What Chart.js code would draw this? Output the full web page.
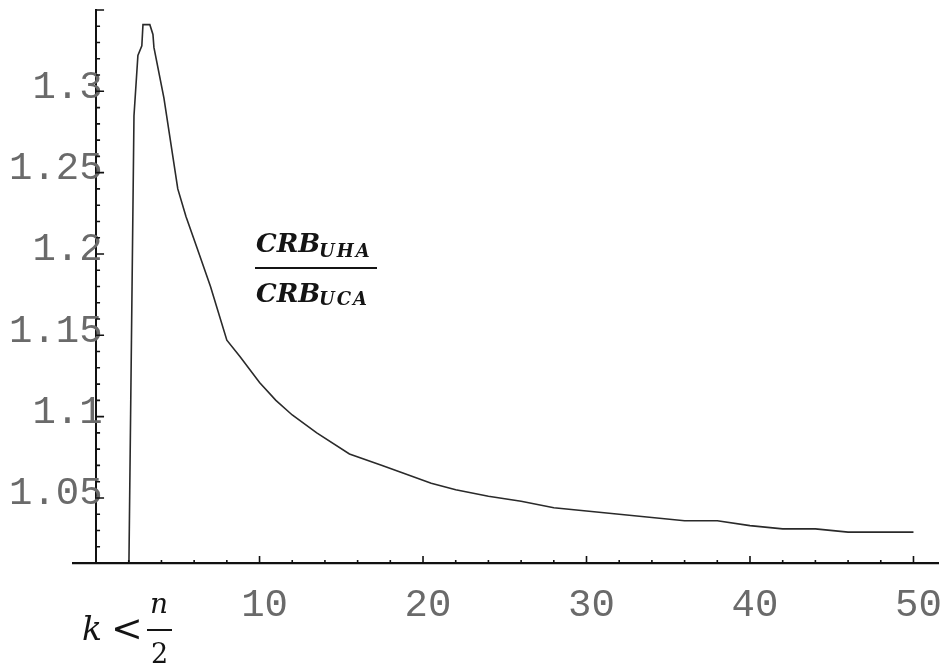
<!DOCTYPE html>
<html>
<head>
<meta charset="utf-8">
<script src="https://cdn.jsdelivr.net/npm/chart.js@4.4.1/dist/chart.umd.min.js"></script>
<style>
  html, body { margin: 0; padding: 0; background: #ffffff; }
  #wrap { position: relative; width: 947px; height: 666px; }
  canvas { position: absolute; left: 0; top: 0; }
</style>
</head>
<body>
<div id="wrap"><canvas id="c" width="947" height="666"></canvas></div>
<script>
// ---- data ----
const kValues = [2.0, 2.32, 2.56, 2.8, 2.87, 3.29, 3.48, 3.54, 4.15, 5, 5.5, 6.2, 7, 8, 8.8, 10, 11, 12, 13.5, 15.5, 17.5, 18.6, 20.5, 22, 24, 26, 28, 30, 32, 34, 36, 38, 40, 42, 44, 46, 48, 50];
const ratioValues = [1.0, 1.285, 1.322, 1.328, 1.341, 1.341, 1.335, 1.327, 1.296, 1.240, 1.223, 1.203, 1.180, 1.147, 1.137, 1.121, 1.110, 1.101, 1.090, 1.077, 1.070, 1.066, 1.059, 1.055, 1.051, 1.048, 1.044, 1.042, 1.040, 1.038, 1.036, 1.036, 1.033, 1.031, 1.031, 1.029, 1.029, 1.029];
const xTickLabels = ["10", "20", "30", "40", "50"];
const yTickLabels = ["1.05", "1.1", "1.15", "1.2", "1.25", "1.3"];
const xMinorTicks = [2, 4, 6, 8, 10, 12, 14, 16, 18, 20, 22, 24, 26, 28, 30, 32, 34, 36, 38, 40, 42, 44, 46, 48, 50];
const yMinorTicks = [1.01, 1.02, 1.03, 1.04, 1.05, 1.06, 1.07, 1.08, 1.09, 1.1, 1.11, 1.12, 1.13, 1.14, 1.15, 1.16, 1.17, 1.18, 1.19, 1.2, 1.21, 1.22, 1.23, 1.24, 1.25, 1.26, 1.27, 1.28, 1.29, 1.3, 1.31, 1.32, 1.33, 1.34, 1.35];

const points = kValues.map((k, i) => ({ x: k, y: ratioValues[i] }));
const tickFont = { family: "'Liberation Mono', 'DejaVu Sans Mono', monospace", size: 39, lineHeight: 1 };
const noScalePadding = (s) => { s.paddingLeft = 0; s.paddingRight = 0; s.paddingTop = 0; s.paddingBottom = 0; };

// small tick marks (inside the axes) and math annotations
const extras = {
  id: 'extras',
  afterDraw(chart) {
    const ctx = chart.ctx;
    const xs = chart.scales.x, ys = chart.scales.y;
    const ax = xs.getPixelForValue(0);
    const ay = ys.getPixelForValue(1.01);
    ctx.save();
    ctx.strokeStyle = '#111';
    ctx.lineWidth = 1.6;
    ctx.beginPath();
    xMinorTicks.forEach(k => {
      const px = xs.getPixelForValue(k);
      const len = (k % 10 === 0) ? 7 : 3;
      ctx.moveTo(px, ay); ctx.lineTo(px, ay - len);
    });
    yMinorTicks.forEach(v => {
      const py = ys.getPixelForValue(v);
      const major = Math.abs(Math.round(v * 100) % 5) === 0;
      const len = major ? 8 : 4;
      ctx.moveTo(ax, py); ctx.lineTo(ax + len, py);
    });
    ctx.stroke();

    // ratio annotation
    ctx.fillStyle = '#141414';
    ctx.textBaseline = 'alphabetic';
    ctx.textAlign = 'left';
    const big = "italic bold 26px 'DejaVu Serif', serif";
    const sub = "italic bold 18px 'DejaVu Serif', serif";
    ctx.font = big; ctx.fillText('CRB', 256, 252);
    ctx.font = sub; ctx.letterSpacing = '2px'; ctx.fillText('UHA', 319, 257);
    ctx.letterSpacing = '0px';
    ctx.fillRect(255, 267, 122, 2);
    ctx.font = big; ctx.fillText('CRB', 256, 302);
    ctx.font = sub; ctx.letterSpacing = '2px'; ctx.fillText('UCA', 319, 305);
    ctx.letterSpacing = '0px';

    // axis label k < n/2
    ctx.font = "italic 33px 'DejaVu Serif', serif";
    ctx.fillText('k', 82, 640);
    ctx.font = "38px 'DejaVu Serif', serif";
    ctx.fillText('<', 111, 641);
    ctx.font = "italic 28px 'DejaVu Serif', serif";
    ctx.fillText('n', 150, 613);
    ctx.fillRect(147, 629, 25, 2);
    ctx.font = "27px 'DejaVu Serif', serif";
    ctx.fillText('2', 151, 663);
    ctx.restore();
  }
};

new Chart(document.getElementById('c'), {
  type: 'line',
  data: {
    datasets: [{
      data: points,
      yAxisID: 'y',
      borderColor: '#2a2a2a',
      borderWidth: 1.6,
      pointRadius: 0,
      tension: 0,
      fill: false
    }]
  },
  options: {
    responsive: false,
    animation: false,
    devicePixelRatio: 1,
    layout: { autoPadding: false, padding: { left: 73, right: 9, top: 10, bottom: 103 } },
    plugins: { legend: { display: false }, tooltip: { enabled: false } },
    scales: {
      x: {
        type: 'linear',
        min: -1.41,
        max: 51.5,
        position: { y: 1.01 },
        grid: { display: false, drawTicks: false },
        border: { display: true, color: '#111', width: 2.2 },
        afterFit: noScalePadding,
        afterBuildTicks: (s) => { s.ticks = xTickLabels.map(t => ({ value: parseFloat(t) })); },
        ticks: {
          font: tickFont,
          color: '#6a6a6a',
          padding: 23,
          labelOffset: 5,
          maxRotation: 0,
          autoSkip: false,
          callback: (v) => { const i = xTickLabels.findIndex(t => parseFloat(t) === v); return i >= 0 ? xTickLabels[i] : ''; }
        }
      },
      // axis line at k = 0
      yAxisLine: {
        type: 'linear',
        min: 1.01,
        max: 1.35,
        position: { x: 0 },
        grid: { display: false, drawTicks: false },
        border: { display: true, color: '#111', width: 2 },
        afterFit: noScalePadding,
        ticks: { display: false }
      },
      // tick labels, right edge slightly past the axis like the reference
      y: {
        type: 'linear',
        min: 1.01,
        max: 1.35,
        position: { x: 0.4 },
        grid: { display: false, drawTicks: false },
        border: { display: false },
        afterFit: noScalePadding,
        afterBuildTicks: (s) => { s.ticks = yTickLabels.map(t => ({ value: parseFloat(t) })); },
        ticks: {
          font: tickFont,
          color: '#6a6a6a',
          padding: 0,
          labelOffset: -4,
          autoSkip: false,
          callback: (v) => { const i = yTickLabels.findIndex(t => Math.abs(parseFloat(t) - v) < 1e-9); return i >= 0 ? yTickLabels[i] : ''; }
        }
      }
    }
  },
  plugins: [extras]
});
</script>
</body>
</html>
